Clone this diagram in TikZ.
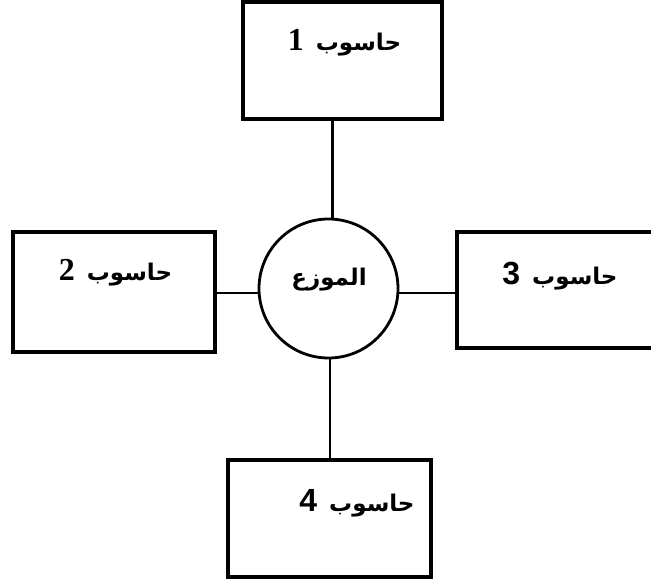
\documentclass[tikz,border=0pt]{standalone}
\usepackage{fontspec}
\setmainfont{Liberation Serif}
\newfontfamily\arabicfont[Script=Arabic]{DejaVu Sans}
\newfontfamily\serifnum{Liberation Serif}
\newfontfamily\sansnum{Liberation Sans}
\TeXXeTstate=1
% "computer n": the word on the right, the number on the left
\newcommand{\pclabel}[2]{\arabicfont\bfseries\beginR حاسوب {#1\bfseries\fontsize{32}{34}\selectfont\hspace{4pt}#2}\endR}

\begin{document}
\begin{tikzpicture}[x=1pt,y=-1pt,
  box/.style={draw, line width=3.2pt, rectangle, inner sep=0pt},
  hub/.style={draw, circle, line width=2.8pt, minimum size=139pt, inner sep=0pt},
  lbl/.style={font=\fontsize{23}{27}\selectfont, inner sep=0pt},
  wire/.style={line width=2.8pt}]
  \clip (0,0) rectangle (651,583);
  \fill[white] (0,0) rectangle (651,583);

  % four computers around the switch
  \node[box, minimum width=199pt, minimum height=117pt] (pc1) at (342.5,60.5) {};
  \node[box, minimum width=202pt, minimum height=120pt] (pc2) at (114,292) {};
  \node[box, minimum width=200pt, minimum height=116pt] (pc3) at (557,290) {};
  \node[box, minimum width=203pt, minimum height=117pt] (pc4) at (329.5,518.5) {};

  % labels
  \node[lbl] (t1) at (344.5,43) {\pclabel{\serifnum}{1}};
  \node[lbl] (t2) at (115.5,273) {\pclabel{\serifnum}{2}};
  \node[lbl] (t3) at (560,276) {\pclabel{\sansnum}{3}};
  \node[lbl] (t4) at (357,503) {\pclabel{\sansnum}{4}};

  % the switch
  \node[hub] (hub) at (328.5,288.5) {};
  \node[lbl] (th) at (329,280) {\arabicfont\bfseries\beginR الموزع\endR};

  % cables
  \draw[wire] ([xshift=4pt]hub.north) -- ([xshift=4pt]hub.north |- pc1.south);
  \draw[wire] ([yshift=-4.5pt]hub.west) -- ([yshift=-4.5pt]hub.west -| pc2.east);
  \draw[wire] ([yshift=-4.5pt]hub.east) -- ([yshift=-4.5pt]hub.east -| pc3.west);
  \draw[wire] ([xshift=1.5pt]hub.south) -- ([xshift=1.5pt]hub.south |- pc4.north);
\end{tikzpicture}
\end{document}
